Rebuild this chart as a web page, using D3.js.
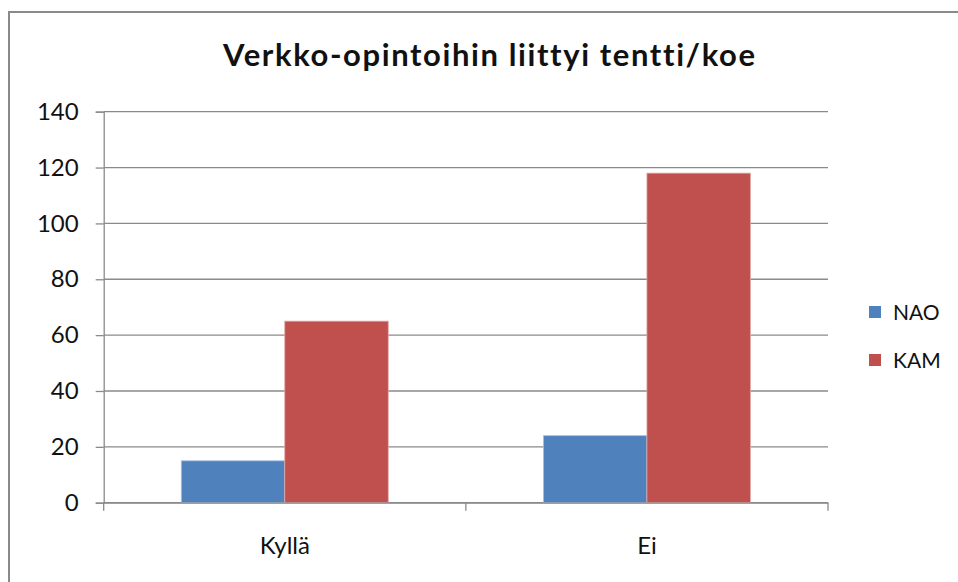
<!DOCTYPE html>
<html>
<head>
<meta charset="utf-8">
<script src="https://cdn.jsdelivr.net/npm/d3@7"></script>
<style>
  body { margin: 0; background: #fff; }
  svg { display: block; }
  text { font-family: Lato, "Open Sans", sans-serif; fill: #111; font-variant-ligatures: none; }
</style>
</head>
<body>
<svg></svg>
<script>
const categories = ['Kyllä', 'Ei']
const series = ['NAO', 'KAM']
const naoValues = [15, 24]
const kamValues = [65, 118]
const yTicks = [0, 20, 40, 60, 80, 100, 120, 140]
const title = 'Verkko-opintoihin liittyi tentti/koe'

const colors = {NAO: '#4f81bd', KAM: '#c0504d'}

const w = 958
const h = 582

const svg = d3.select('svg')
  .attr('width', w)
  .attr('height', h)

// outer chart frame, cut off at right and bottom like the screenshot
svg.append('path')
  .attr('d', `M9,${h} V12 H${w}`)
  .attr('fill', 'none')
  .attr('stroke', '#8a8a8a')
  .attr('stroke-width', 2)

const margin = {top: 111.7, left: 103.7, right: 130, bottom: 79.3}
const innerWidth = w - margin.left - margin.right
const innerHeight = h - margin.top - margin.bottom

const g = svg.append('g')
  .attr('transform', `translate(${margin.left}, ${margin.top})`)

const data = categories.map((c, i) => ({cat: c, NAO: naoValues[i], KAM: kamValues[i]}))

const x0 = d3.scaleBand()
  .domain(categories)
  .range([0, innerWidth])

const bw = x0.bandwidth()
const gap = bw * 0.75 / 3.5 // excel gap width 150%
const x1 = d3.scaleBand()
  .domain(series)
  .range([gap, bw - gap])

const yScale = d3.scaleLinear()
  .domain([0, 140])
  .range([innerHeight, 0])

// gridlines
g.append('g').selectAll('line')
  .data(yTicks)
  .enter().append('line')
  .attr('x1', 0).attr('x2', innerWidth)
  .attr('y1', d => yScale(d)).attr('y2', d => yScale(d))
  .attr('stroke', '#8a8a8a')
  .attr('stroke-width', 1.3)

// y axis
const yAxisG = g.append('g')
  .call(d3.axisLeft(yScale).tickValues(yTicks).tickSize(8).tickPadding(17))
  .attr('font-size', 24)
  .attr('font-family', 'Lato, sans-serif')
yAxisG.select('.domain').attr('stroke', '#8a8a8a').attr('stroke-width', 1.3)
yAxisG.selectAll('.tick line').attr('stroke', '#8a8a8a').attr('stroke-width', 1.3)
yAxisG.selectAll('.tick text')
  .attr('fill', '#111')
  .attr('font-size', 24)
  .attr('text-anchor', 'end')

// bars
const groups = g.selectAll('.grp').data(data)
  .enter().append('g')
  .attr('class', 'grp')
  .attr('transform', d => `translate(${x0(d.cat)}, 0)`)

groups.selectAll('rect')
  .data(d => series.map(s => ({key: s, value: d[s]})))
  .enter().append('rect')
  .attr('x', d => x1(d.key))
  .attr('width', x1.bandwidth())
  .attr('y', d => yScale(d.value))
  .attr('height', d => innerHeight - yScale(d.value))
  .attr('fill', d => colors[d.key])
  .attr('stroke', d => d.key === 'NAO' ? '#a7c0e0' : '#e0a8a6')
  .attr('stroke-width', 0.8)

// x axis: category boundary ticks + labels
const xAxisG = g.append('g')
  .attr('transform', `translate(0, ${innerHeight})`)
  .call(d3.axisBottom(x0).tickSize(0).tickPadding(34))
  .attr('font-size', 24)
  .attr('font-family', 'Lato, sans-serif')
xAxisG.select('.domain').attr('stroke', '#8a8a8a').attr('stroke-width', 1.3)
xAxisG.selectAll('.tick text')
  .attr('fill', '#111')
  .attr('font-size', 24)
  .attr('text-anchor', 'middle')

const bounds = categories.map(c => x0(c)).concat([innerWidth])
xAxisG.selectAll('.bound').data(bounds)
  .enter().append('line')
  .attr('class', 'bound')
  .attr('x1', d => d).attr('x2', d => d)
  .attr('y1', 0).attr('y2', 8)
  .attr('stroke', '#8a8a8a')
  .attr('stroke-width', 1.3)

// legend
const legend = svg.append('g')
  .attr('transform', 'translate(869, 312)')
const items = legend.selectAll('g').data(series)
  .enter().append('g')
  .attr('transform', (d, i) => `translate(0, ${i * 48})`)
items.append('rect')
  .attr('x', 0).attr('y', -6)
  .attr('width', 12).attr('height', 12)
  .attr('fill', d => colors[d])
items.append('text')
  .attr('x', 24)
  .attr('dy', '0.36em')
  .attr('font-size', 21)
  .text(d => d)

// title
svg.append('text')
  .attr('x', 489)
  .attr('y', 66)
  .attr('text-anchor', 'middle')
  .attr('font-size', 31)
  .attr('font-weight', 'bold')
  .attr('textLength', 532)
  .attr('lengthAdjust', 'spacing')
  .text(title)
</script>
</body>
</html>
